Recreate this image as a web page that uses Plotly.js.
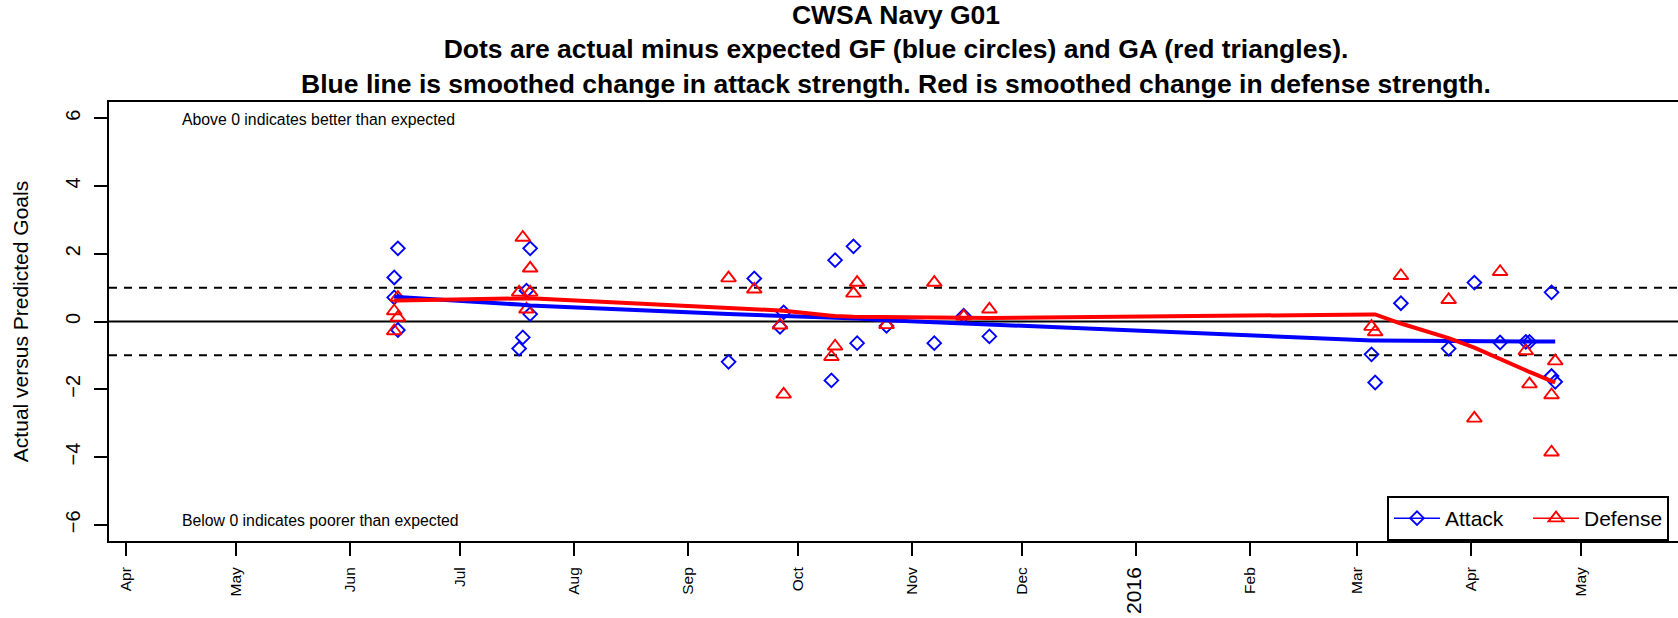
<!DOCTYPE html>
<html>
<head>
<meta charset="utf-8">
<script src="https://cdn.plot.ly/plotly-3.0.1.min.js"></script>
<style>
html,body{margin:0;padding:0;background:#ffffff;}
#chart{width:1678px;height:618px;}
</style>
</head>
<body>
<div id="chart"></div>
<script>
// ---- data ----
const gameDates = [
  '2015-06-13','2015-06-13','2015-06-14','2015-06-14',
  '2015-07-17','2015-07-18','2015-07-19','2015-07-20','2015-07-20',
  '2015-09-12','2015-09-19','2015-09-26','2015-09-27',
  '2015-10-10','2015-10-11','2015-10-16','2015-10-17','2015-10-25',
  '2015-11-07','2015-11-15','2015-11-22',
  '2016-03-05','2016-03-06','2016-03-13','2016-03-26',
  '2016-04-02','2016-04-09','2016-04-16','2016-04-17',
  '2016-04-23','2016-04-23','2016-04-24'
];
const attackDiff = [
  1.30, 0.71, 2.16, -0.25,
  -0.80, -0.47, 0.91, 2.16, 0.22,
  -1.19, 1.27, -0.16, 0.27,
  -1.74, 1.81, 2.22, -0.64, -0.13,
  -0.64, 0.17, -0.44,
  -0.97, -1.80, 0.54, -0.80,
  1.15, -0.62, -0.60, -0.60,
  0.86, -1.61, -1.78
];
const defenseDiff = [
  0.31, -0.28, 0.71, 0.12,
  0.86, 2.48, 0.36, 1.57, 0.86,
  1.28, 0.95, -0.11, -2.15,
  -1.04, -0.73, 0.83, 1.15, -0.10,
  1.15, 0.15, 0.36,
  -0.15, -0.31, 1.35, 0.64,
  -2.86, 1.47, -0.87, -1.85,
  -2.17, -3.86, -1.17
];
const smoothDates = [
  '2015-06-13','2015-06-14',
  '2015-07-17','2015-07-18','2015-07-19','2015-07-20',
  '2015-09-12','2015-09-19','2015-09-26','2015-09-27',
  '2015-10-10','2015-10-11','2015-10-16','2015-10-17','2015-10-25',
  '2015-11-07','2015-11-15','2015-11-22',
  '2016-03-05','2016-03-06','2016-03-13','2016-03-26',
  '2016-04-02','2016-04-09','2016-04-16','2016-04-17',
  '2016-04-23','2016-04-24'
];
const attackSmooth = [
  0.74, 0.72,
  0.50, 0.49, 0.48, 0.47,
  0.22, 0.20, 0.17, 0.16,
  0.12, 0.12, 0.10, 0.09, 0.04,
  -0.02, -0.06, -0.11,
  -0.56, -0.56, -0.57, -0.58,
  -0.58, -0.58, -0.59, -0.59,
  -0.59, -0.59
];
const defenseSmooth = [
  0.61, 0.62,
  0.68, 0.69, 0.69, 0.69,
  0.40, 0.36, 0.33, 0.32,
  0.17, 0.16, 0.14, 0.14, 0.14,
  0.12, 0.11, 0.10,
  0.21, 0.21, -0.06, -0.49,
  -0.77, -1.12, -1.45, -1.49,
  -1.76, -1.80
];
const monthTicks = ['2015-04-01','2015-05-01','2015-06-01','2015-07-01','2015-08-01','2015-09-01',
  '2015-10-01','2015-11-01','2015-12-01','2016-01-01','2016-02-01','2016-03-01','2016-04-01','2016-05-01'];
const monthLabels = ['Apr','May','Jun','Jul','Aug','Sep','Oct','Nov','Dec','2016','Feb','Mar','Apr','May'];
const yTicks = [-6,-4,-2,0,2,4,6];
const refLines = [-1, 0, 1];

const BLUE = '#0000FF', RED = '#FF0000';

const traces = [
  {x: gameDates, y: attackDiff, type: 'scatter', mode: 'markers', name: 'Attack GF',
   marker: {symbol: 'diamond-open', size: 10.5, color: BLUE, line: {width: 1.9, color: BLUE}}, showlegend: false},
  {x: gameDates, y: defenseDiff, type: 'scatter', mode: 'markers', name: 'Defense GA',
   marker: {symbol: 'triangle-up-open', size: 13, color: RED, line: {width: 1.9, color: RED}}, showlegend: false},
  {x: smoothDates, y: attackSmooth, type: 'scatter', mode: 'lines', name: 'Attack smooth',
   line: {color: BLUE, width: 4}, showlegend: false},
  {x: smoothDates, y: defenseSmooth, type: 'scatter', mode: 'lines', name: 'Defense smooth',
   line: {color: RED, width: 4}, showlegend: false},
  {x: [null], y: [null], type: 'scatter', mode: 'lines+markers', name: 'Attack',
   line: {color: BLUE, width: 1.5}, marker: {symbol: 'diamond-open', size: 10.5, color: BLUE, line: {width: 1.9, color: BLUE}}},
  {x: [null], y: [null], type: 'scatter', mode: 'lines+markers', name: 'Defense',
   line: {color: RED, width: 1.5}, marker: {symbol: 'triangle-up-open', size: 13, color: RED, line: {width: 1.9, color: RED}}}
];

const tickText = monthLabels.map(t => /^\d{4}$/.test(t) ? '<span style="font-size:21px">' + t + '</span>' : t);

const layout = {
  width: 1678, height: 618,
  margin: {l: 109, r: 0, t: 102, b: 77, autoexpand: false},
  paper_bgcolor: '#ffffff', plot_bgcolor: '#ffffff',
  font: {family: '"Liberation Sans", Arial, sans-serif', color: '#000000'},
  title: {
    text: 'CWSA Navy G01<br>Dots are actual minus expected GF (blue circles) and GA (red triangles).<br>Blue line is smoothed change in attack strength. Red is smoothed change in defense strength.',
    font: {size: 26.5, weight: 'bold', color: '#000000'},
    xref: 'container', x: 896/1678, xanchor: 'center',
    yref: 'container', y: 1 - 24/618, yanchor: 'top'
  },
  xaxis: {
    type: 'date',
    range: ['2015-03-27 08:57', '2016-05-27 10:09'],
    tickmode: 'array', tickvals: monthTicks, ticktext: tickText,
    tickangle: -90, ticks: 'outside', ticklen: 13, tickwidth: 2, tickcolor: '#000',
    tickfont: {size: 15.5}, ticklabelstandoff: 5,
    showline: true, linewidth: 2, linecolor: '#000', mirror: true,
    showgrid: false, zeroline: false
  },
  yaxis: {
    range: [-6.48, 6.48],
    tickmode: 'array', tickvals: yTicks,
    tickangle: -90, ticks: 'outside', ticklen: 13, tickwidth: 2, tickcolor: '#000',
    tickfont: {size: 20}, ticklabelstandoff: 6,
    showline: true, linewidth: 2, linecolor: '#000', mirror: false,
    showgrid: false, zeroline: false,
    title: {text: 'Actual versus Predicted Goals', font: {size: 21}, standoff: 28}
  },
  legend: {
    orientation: 'h', x: (1387-109)/1569, xanchor: 'left', y: 0, yanchor: 'bottom',
    bordercolor: '#000', borderwidth: 2, bgcolor: '#ffffff', font: {size: 21},
    itemwidth: 46, entrywidth: 78, entrywidthmode: 'pixels'
  },
  shapes: refLines.map(v => ({
    type: 'line', xref: 'paper', x0: 0, x1: 1, yref: 'y', y0: v, y1: v, layer: 'below',
    line: {color: '#000', width: v === 0 ? 1.8 : 2, dash: v === 0 ? 'solid' : '8px,7px'}
  })),
  annotations: [
    {text: 'Above 0 indicates better than expected', xref: 'paper', x: (180-109)/1569, xanchor: 'left',
     yref: 'y', y: 5.95, yanchor: 'middle', showarrow: false, font: {size: 15.8}},
    {text: 'Below 0 indicates poorer than expected', xref: 'paper', x: (180-109)/1569, xanchor: 'left',
     yref: 'y', y: -5.88, yanchor: 'middle', showarrow: false, font: {size: 15.8}}
  ]
};

Plotly.newPlot('chart', traces, layout, {displayModeBar: false, responsive: false});
</script>
</body>
</html>
